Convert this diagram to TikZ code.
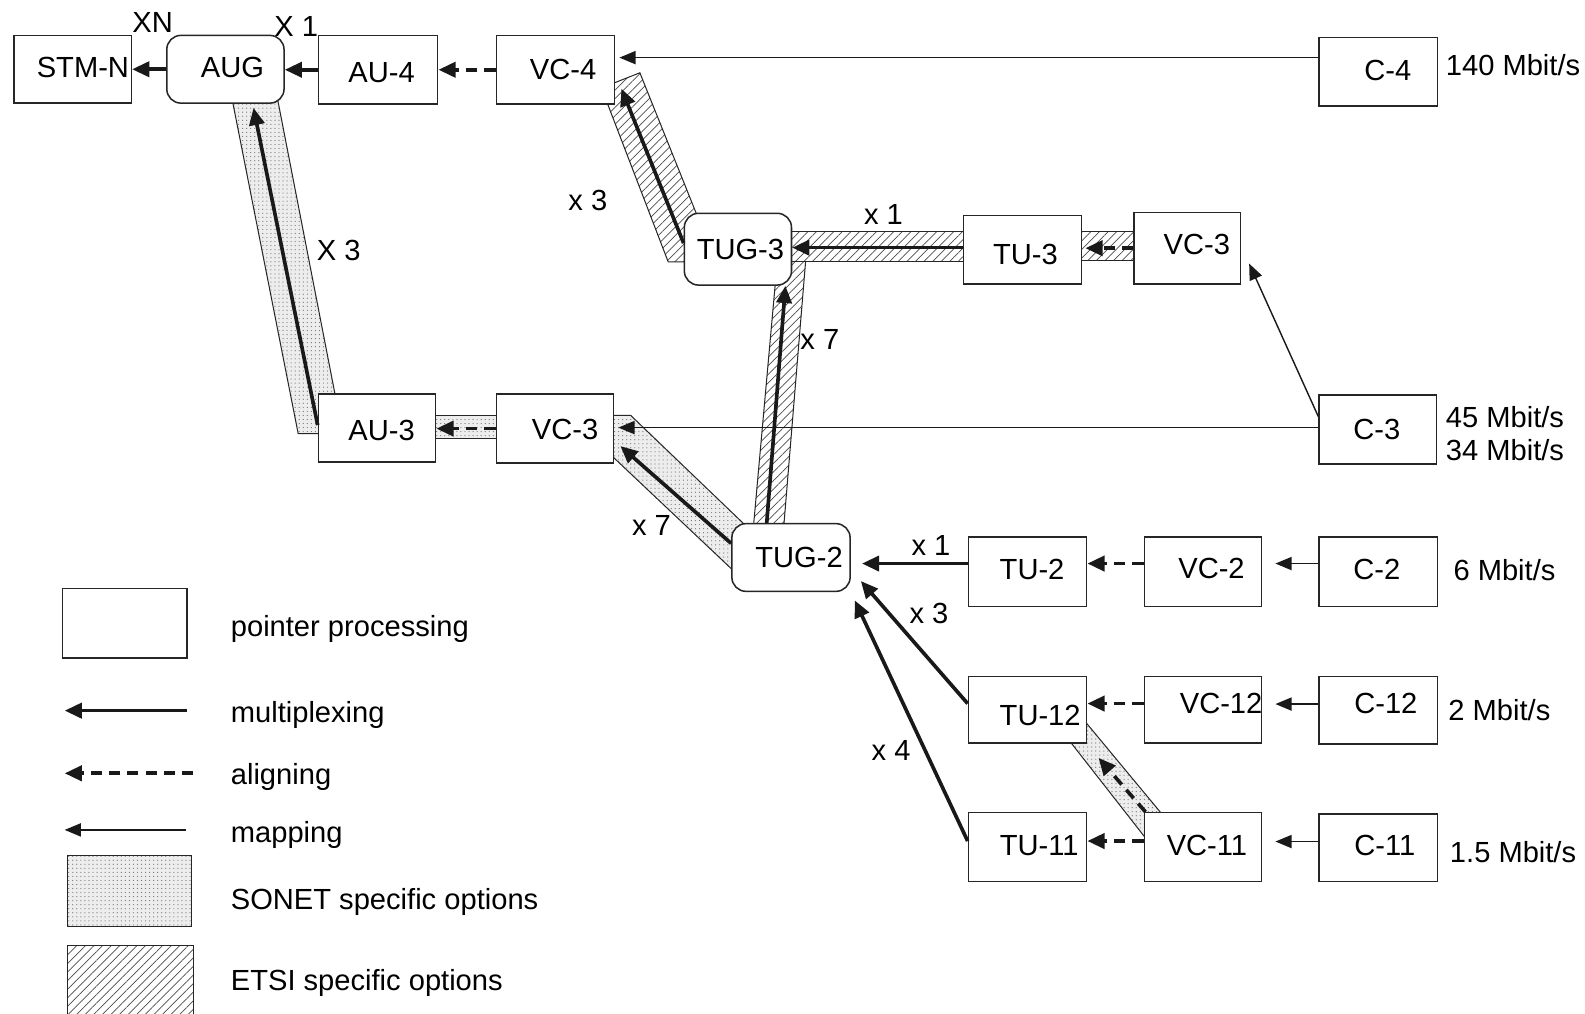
\documentclass[tikz,border=0pt]{standalone}
\usepackage{fontspec}
\setmainfont{Liberation Sans}
\usetikzlibrary{arrows.meta,patterns.meta,calc}
\tikzset{
  box/.style={draw=black!85, line width=0.75pt, fill=white, inner sep=0pt, minimum width=58pt, minimum height=34pt},
  rbox/.style={box, rounded corners=7pt},
  lbl/.style={anchor=mid, inner sep=0pt, yshift=-2pt},
  lblw/.style={anchor=mid west, inner sep=0pt, yshift=-2pt},
  mux/.style={draw=black!90, line width=1.8pt, -{Triangle[length=8.5pt,width=7.5pt]}},
  aln/.style={mux, dash pattern=on 5.5pt off 3.5pt},
  mapg/.style={draw=black!90, line width=0.7pt, -{Triangle[length=8pt,width=6.5pt]}},
  sonet/.style={preaction={fill=black!7}, pattern={Dots[radius=0.3pt,distance=2pt]}, pattern color=black!55, draw=black!85, line width=0.5pt},
  etsi/.style={preaction={fill=white}, pattern={Lines[angle=45,distance=3pt,line width=0.35pt]}, pattern color=black!70, draw=black!85, line width=0.5pt}
}
\begin{document}
\begin{tikzpicture}[x=0.5pt,y=-0.5pt,font=\fontsize{14.4}{17}\selectfont]
\useasboundingbox (0,0) rectangle (1568,1003);
\fill[white] (0,0) rectangle (1568,1003);

% ---- option bands ----
\path[sonet] (229,95) -- (274,95) -- (333,398) -- (333,429) -- (295,429) -- cycle;
\path[sonet] (425,411) rectangle (497,434);
\path[sonet] (600,411) -- (624,411) -- (745,527) -- (745,565) -- (726,565) -- (600,446) -- cycle;
\path[sonet] (1055,729) -- (1072,712) -- (1155,812) -- (1134,830) -- cycle;
\path[etsi] (633,72) -- (595,87) -- (661,259) -- (708,259) -- cycle;
\path[etsi] (745,525) -- (775,525) -- (797,258) -- (769,258) -- cycle;
\path[etsi] (775,229) rectangle (960,259);
\path[etsi] (1065,229) rectangle (1127,258);

% ---- boxes ----
\node[box, minimum height=33.5pt] (stmn) at (72,68.5) {};
\node[rbox, minimum height=33.5pt] (aug) at (223,68.5) {};
\node[box, minimum width=59pt] (au4) at (374,69) {};
\node[box, minimum width=58.5pt] (vc4) at (549.5,69) {};
\node[box, minimum width=58.5pt] (c4) at (1363.5,71) {};
\node[rbox, minimum width=53pt, minimum height=35.5pt] (tug3) at (730,246.5) {};
\node[box, minimum width=58.5pt] (tu3) at (1011.5,247) {};
\node[box, minimum width=52.5pt, minimum height=35.5pt] (vc3t) at (1174.5,245.5) {};
\node[box, minimum height=33.5pt] (au3) at (373,423.5) {};
\node[box] (vc3m) at (549,424) {};
\node[box] (c3) at (1363,425) {};
\node[rbox, minimum width=58.5pt, minimum height=33.5pt] (tug2) at (782.5,551.5) {};
\node[box, minimum width=58.5pt, minimum height=34.5pt] (tu2) at (1016.5,565.5) {};
\node[box, minimum height=34.5pt] (vc2) at (1190,565.5) {};
\node[box, minimum width=58.5pt, minimum height=34.5pt] (c2) at (1363.5,565.5) {};
\node[box, minimum width=58.5pt, minimum height=33pt] (tu12) at (1016.5,702) {};
\node[box, minimum height=33pt] (vc12) at (1190,702) {};
\node[box, minimum width=58.5pt, minimum height=33.5pt] (c12) at (1363.5,702.5) {};
\node[box, minimum width=58.5pt] (tu11) at (1016.5,838) {};
\node[box] (vc11) at (1190,838) {};
\node[box, minimum width=58.5pt, minimum height=33.5pt] (c11) at (1363.5,838.5) {};

% ---- box texts ----
\node[lbl] (stmnt) at (82,67) {STM-N};
\node[lbl] (augt) at (230,67) {AUG};
\node[lbl] (au4t) at (377.5,72) {AU-4};
\node[lbl] (vc4t) at (557,69) {VC-4};
\node[lbl] (c4t) at (1373,70) {C-4};
\node[lbl] (tug3t) at (732.5,247) {TUG-3};
\node[lbl] (tu3t) at (1014.5,252) {TU-3};
\node[lbl] (vc3tt) at (1184,242) {VC-3};
\node[lbl] (au3t) at (377.5,426.5) {AU-3};
\node[lbl] (vc3mt) at (559,425) {VC-3};
\node[lbl] (c3t) at (1362,425) {C-3};
\node[lbl] (tug2t) at (790.5,552) {TUG-2};
\node[lbl] (tu2t) at (1021,563.5) {TU-2};
\node[lbl] (vc2t) at (1198.5,563) {VC-2};
\node[lbl] (c2t) at (1362,564) {C-2};
\node[lbl] (tu12t) at (1029,708) {TU-12};
\node[lbl] (vc12t) at (1208,697) {VC-12};
\node[lbl] (c12t) at (1371,697) {C-12};
\node[lbl] (tu11t) at (1028,837) {TU-11};
\node[lbl] (vc11t) at (1194,837) {VC-11};
\node[lbl] (c11t) at (1370,837) {C-11};

% ---- rates ----
\node[lblw] (r140) at (1430,65.5) {140 Mbit/s};
\node[lblw] (r45) at (1430,413.5) {45 Mbit/s};
\node[lblw] (r34) at (1430,446) {34 Mbit/s};
\node[lblw] (r6) at (1437.5,565) {6 Mbit/s};
\node[lblw] (r2) at (1432.5,703.5) {2 Mbit/s};
\node[lblw] (r15) at (1434,844) {1.5 Mbit/s};

% ---- multiplicities ----
\node[lbl] (mxn) at (151,23) {XN};
\node[lbl] (mx1) at (293,27) {X 1};
\node[lbl] (mx3a) at (335,248.5) {X 3};
\node[lbl] (mx3b) at (581.5,199) {x 3};
\node[lbl] (mx1b) at (874,213) {x 1};
\node[lbl] (mx7a) at (811,336) {x 7};
\node[lbl] (mx7b) at (644.5,520.5) {x 7};
\node[lbl] (mx1c) at (921,540) {x 1};
\node[lbl] (mx3c) at (919,608) {x 3};
\node[lbl] (mx4) at (881.5,743) {x 4};

% ---- connectors ----
\draw[mux] (aug.west) -- (aug.west -| stmn.east);
\draw[mux] (au4.west) -- (au4.west -| aug.east);
\draw[aln] (vc4.west) -- (vc4.west -| au4.east);
\draw[mapg, shorten >=2pt] ($(c4.west)+(0,-14)$) -- ($(c4.west -| vc4.east)+(0,-14)$);
\draw[mux, shorten >=2pt] ($(au3.west)+(0,-3)$) -- ($(aug.south)+(27,0)$);
\draw[aln] (vc3m.west) -- (vc3m.west -| au3.east);
\draw[mapg, shorten >=2pt] ($(c3.west)+(0,-2)$) -- ($(c3.west -| vc3m.east)+(0,-2)$);
\draw[mux, shorten >=4pt] ($(tug2.west)+(0,-14)$) -- ($(vc3m.east)+(0,12)$);
\draw[mux] ($(tug3.west)+(0,-6)$) -- ($(vc4.south east)+(6,-16)$);
\draw[mux] ($(tug2.north)+(-24,0)$) -- ($(tug3.south)+(47,0)$);
\draw[mux] ($(tu3.west)+(0,-2)$) -- ($(tu3.west -| tug3.east)+(0,-2)$);
\draw[aln, shorten >=1.5pt] (vc3t.west) -- (vc3t.west -| tu3.east);
\coordinate (vc3tip) at ($(vc3t.south east)+(8,-21)$);
\draw[mapg] ($(c3.north west)+(0,22)$) -- (vc3tip);
\draw[mux, shorten >=5.5pt] ($(tu2.west)+(0,-8)$) -- ($(tu2.west -| tug2.east)+(0,-8)$);
\draw[aln] ($(vc2.west)+(0,-8)$) -- ($(vc2.west -| tu2.east)+(0,-8)$);
\draw[mapg, shorten >=6.5pt] ($(c2.west)+(0,-8)$) -- ($(c2.west -| vc2.east)+(0,-8)$);
\draw[mux, shorten >=7.5pt] ($(tu12.west)+(0,-6)$) -- ($(tug2.east)+(0,12)$);
\draw[aln] ($(vc12.west)+(0,-6)$) -- ($(vc12.west -| tu12.east)+(0,-6)$);
\draw[mapg, shorten >=6.5pt] ($(c12.west)+(0,-6)$) -- ($(c12.west -| vc12.east)+(0,-6)$);
\draw[mux, shorten >=4.5pt] ($(tu11.west)+(0,-6)$) -- (tug2.south east);
\draw[aln] ($(vc11.west)+(0,-6)$) -- ($(vc11.west -| tu11.east)+(0,-6)$);
\draw[mapg, shorten >=6.5pt] ($(c11.west)+(0,-6)$) -- ($(c11.west -| vc11.east)+(0,-6)$);
\draw[aln] ($(vc11.north west)+(2,0)$) -- ($(tu12.south east)+(11,14)$);

% ---- legend ----
\node[box, minimum width=61.5pt, minimum height=34.5pt] (lpp) at (123.5,616.5) {};
\node[lblw] (lppt) at (228,620) {pointer processing};
\coordinate (lmA) at (185,703); \coordinate (lmB) at (64,703);
\draw[mux] (lmA) -- (lmB);
\node[lblw] (lmt) at (228,705.5) {multiplexing};
\coordinate (laA) at (191,765); \coordinate (laB) at (64,765);
\draw[aln] (laA) -- (laB);
\node[lblw] (lat) at (228,766.5) {aligning};
\coordinate (lpA) at (184,821); \coordinate (lpB) at (64,821);
\draw[mapg] (lpA) -- (lpB);
\node[lblw] (lpt) at (228,824) {mapping};
\node[sonet, inner sep=0pt, minimum width=61pt, minimum height=35.5pt] (lson) at (128,881.5) {};
\node[lblw] (lsont) at (228,890) {SONET specific options};
\node[etsi, inner sep=0pt, minimum width=62pt, minimum height=40pt] (letsi) at (129,975) {};
\node[lblw] (letsit) at (228,971) {ETSI specific options};
\end{tikzpicture}
\end{document}
